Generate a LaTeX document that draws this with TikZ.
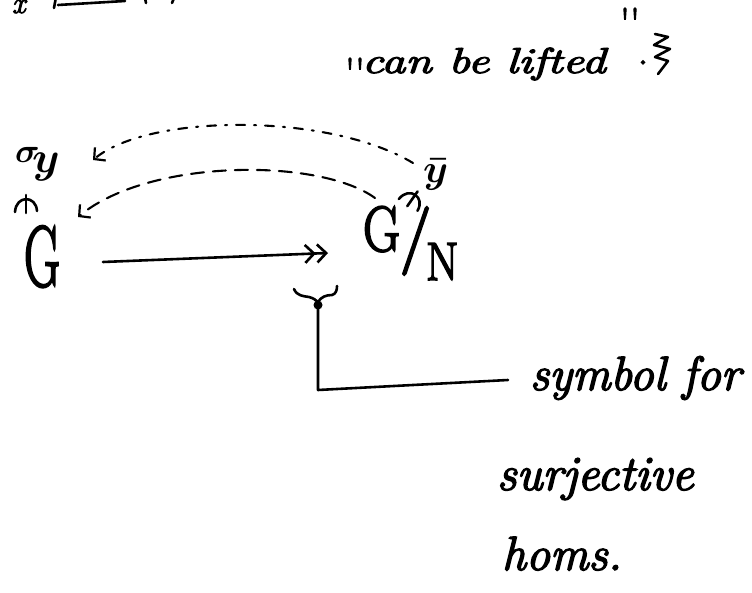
\RequirePackage{fix-cm}
\documentclass[tikz,border=0pt]{standalone}
\usepackage{graphicx}
\usepackage{fontspec}
\newfontfamily\handfont[FakeBold=3]{Latin Modern Roman}
\usetikzlibrary{arrows.meta}
\tikzset{
  ink/.style={line width=2.6pt, line cap=round, line join=round},
  thinink/.style={line width=2.1pt, line cap=round, line join=round},
  hand/.style={inner sep=0pt, outer sep=0pt, anchor=base west, font=\handfont\fontsize{47}{50}\selectfont\itshape},
  glyph/.style={inner sep=0pt, outer sep=0pt, anchor=base west},
  openbarb/.tip={Straight Barb[length=8pt,width=17pt,line width=2.2pt]},
  surjbarb/.tip={Straight Barb[length=9pt,width=18pt,line width=2.6pt]},
  dashA/.style={thinink, dash pattern=on 9pt off 9pt on 2pt off 9pt},
  dashB/.style={thinink, dash pattern=on 13pt off 9pt},
  pitch/.pic={
    \draw[ink] (-11,9) .. controls (-10,-8) and (10,-8) .. (11,8);
    \draw[ink] (0,-8) -- (0,10);
  }
}
\begin{document}
\begin{tikzpicture}[x=1pt,y=-1pt]
\useasboundingbox (0,0) rectangle (752,593);

% cut-off fragment at the top left
\node[glyph, font=\handfont\fontsize{30}{32}\selectfont\itshape] (xfrag) at (12,13) {x};
\draw[ink] (56,-3) -- (54,8);
\draw[ink] (58,5) -- (125,1);
\draw[ink] (145,-2) -- (146,3);
\draw[ink] (174,-2) -- (172,3);

% "can be lifted".
\node[glyph, anchor=north west, font=\handfont\fontsize{40}{40}\selectfont] (q1) at (345,58) {''};
\node[hand, font=\handfont\fontsize{48}{50}\selectfont\itshape] (lift) at (362,73) {\scalebox{1}[0.75]{can be lifted}};
\node[glyph, anchor=north west, font=\handfont\fontsize{40}{40}\selectfont] (q2) at (620,8) {''};
\node[glyph, font=\handfont\fontsize{40}{40}\selectfont] (dot) at (638,64) {.};
\draw[ink] (655,34) -- (668,37) -- (654,45) -- (670,49) -- (655,57) -- (668,61) -- (658,74);

% sigma_y over G
\node[glyph, font=\boldmath\fontsize{34}{36}\selectfont] (sigma) at (15,163) {$\sigma$};
\node[glyph, font=\boldmath\fontsize{44}{46}\selectfont] (sy) at (32,173) {$y$};
\pic at (26,203) {pitch};

% G
\node[glyph, font=\handfont\fontsize{86}{90}\selectfont] (G) at (24,286) {\scalebox{0.58}[1]{G}};

% G/N
\node[glyph, font=\handfont\fontsize{64}{66}\selectfont] (Gq) at (363,251) {\scalebox{0.8}[1]{G}};
\node[glyph, font=\handfont\fontsize{68}{70}\selectfont] (slash) at (400,258) {/};
\node[glyph, font=\handfont\fontsize{54}{56}\selectfont] (N) at (426,280) {\scalebox{0.87}[1]{N}};
\node[glyph, font=\boldmath\fontsize{40}{42}\selectfont] (ybar) at (423,183) {$\bar{y}$};
\pic[rotate=-35] at (413,198) {pitch};

% dashed lifts
\coordinate (ytail) at (413,163);
\coordinate (sigmahead) at (93,160);
\coordinate (gqtail) at (375,198);
\coordinate (ghead) at (78,217);
\draw[dashA, -{openbarb}] (ytail) .. controls (330,113) and (150,113) .. (sigmahead);
\draw[dashB, -{openbarb}] (gqtail) .. controls (320,158) and (150,158) .. (ghead);

% surjection G ->> G/N
\coordinate (mapfrom) at (103,262);
\coordinate (mapto) at (328,253);
\draw[ink, -{surjbarb[]surjbarb[]}] (mapfrom) -- (mapto);

% brace and leader to the note
\coordinate (surj) at (318,305);
\draw[ink] (294,289) .. controls (297,296) and (303,296) .. (309,297) .. controls (313,298) and (316,300) .. (318,302)
  .. controls (321,297) and (326,295) .. (332,295) .. controls (336,294) and (337,290) .. (337,286);
\fill (surj) circle (4.5pt);
\coordinate (corner) at (318,390);
\coordinate (leadend) at (508,380);
\draw[ink] (surj) -- (corner) -- (leadend);

\node[hand, font=\handfont\fontsize{48}{50}\selectfont\itshape] (note1) at (530,390) {symbol for};
\node[hand, font=\handfont\fontsize{49}{50}\selectfont\itshape] (note2) at (497,490) {surjective};
\node[hand, font=\handfont\fontsize{48}{50}\selectfont\itshape] (note3) at (502,570) {homs.};
\end{tikzpicture}
\end{document}
